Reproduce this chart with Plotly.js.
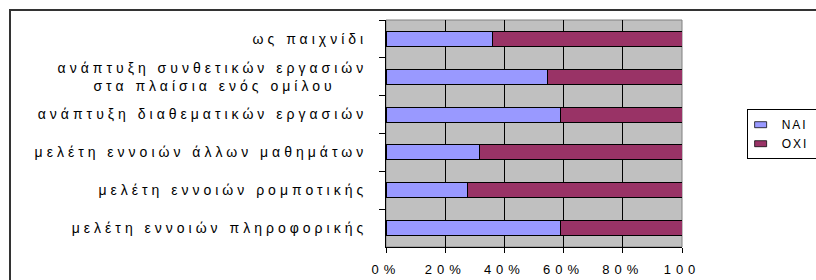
<!DOCTYPE html>
<html>
<head>
<meta charset="utf-8">
<script src="https://cdn.plot.ly/plotly-3.0.1.min.js"></script>
<style>
  html, body { margin: 0; padding: 0; background: #fff; overflow: hidden; }
  #wrap { position: relative; width: 816px; height: 280px; }
  #frame { position: absolute; left: 9px; top: 9px; width: 900px; height: 400px;
           border: 2px solid #333; pointer-events: none; z-index: 5; }
  #chart { position: absolute; left: 0; top: 0; width: 816px; height: 280px; }
  .ytick text { letter-spacing: 4px; }
  .xtick text { letter-spacing: 5px; }
  .legendtext { letter-spacing: 2px; transform: translateX(-6px); }
  .legendpoints path { transform: translate(13px, 0px) scale(1, 0.5) !important; }
</style>
</head>
<body>
<div id="wrap">
  <div id="chart"></div>
  <div id="frame"></div>
</div>
<script>
const categories = [
  "ως παιχνίδι",
  "ανάπτυξη συνθετικών εργασιών<br>στα πλαίσια ενός ομίλου\u00a0\u00a0\u00a0\u00a0",
  "ανάπτυξη διαθεματικών εργασιών",
  "μελέτη εννοιών άλλων μαθημάτων",
  "μελέτη εννοιών ρομποτικής",
  "μελέτη εννοιών πληροφορικής"
];
const naiValues = [36, 54.5, 59, 31.5, 27.5, 59];
const oxiValues = [64, 45.5, 41, 68.5, 72.5, 41];
const seriesNames = ["NAI", "OXI"];
const xTickVals = [0, 20, 40, 60, 80, 100];
const xTickText = ["0%", "20%", "40%", "60%", "80%", "100<br>%"];

const traces = [
  { type: 'bar', orientation: 'h', name: seriesNames[0], y: categories, x: naiValues,
    marker: { color: '#9999FF', line: { color: '#000', width: 1 } }, hoverinfo: 'skip' },
  { type: 'bar', orientation: 'h', name: seriesNames[1], y: categories, x: oxiValues,
    marker: { color: '#993366', line: { color: '#000', width: 1 } }, hoverinfo: 'skip' }
];

const layout = {
  width: 816, height: 280,
  margin: { l: 386, r: 134, t: 20, b: 33, pad: 0, autoexpand: false },
  barmode: 'stack',
  bargap: 0.6,
  paper_bgcolor: 'rgba(0,0,0,0)',
  plot_bgcolor: '#C0C0C0',
  font: { family: 'Liberation Sans, Arial, sans-serif', color: '#000', size: 12 },
  showlegend: true,
  legend: {
    xref: 'container', yref: 'container',
    x: 0.915, y: 0.61, xanchor: 'left', yanchor: 'top',
    bgcolor: '#fff', bordercolor: '#000', borderwidth: 1,
    font: { size: 12, family: 'Liberation Sans, Arial, sans-serif' },
    traceorder: 'normal', itemwidth: 30, tracegroupgap: 0
  },
  xaxis: {
    range: [0, 100], tickvals: xTickVals, ticktext: xTickText,
    showgrid: true, gridcolor: '#000', gridwidth: 1,
    zeroline: false, showline: true, linecolor: '#000', linewidth: 1,
    ticks: 'outside', ticklen: 5, tickcolor: '#000',
    tickfont: { size: 13 }, ticklabelstandoff: 5, fixedrange: true
  },
  yaxis: {
    type: 'category', autorange: 'reversed',
    showgrid: false, zeroline: false, showline: true, linecolor: '#000', linewidth: 1,
    ticks: 'outside', ticklen: 6, tickcolor: '#000', tickson: 'boundaries',
    tickfont: { size: 14 }, ticklabelstandoff: 15, automargin: false, fixedrange: true
  },
  shapes: [
    { type: 'rect', xref: 'paper', yref: 'paper', x0: 0, x1: 1, y0: 0, y1: 1,
      line: { color: '#808080', width: 1 }, fillcolor: 'rgba(0,0,0,0)', layer: 'below' }
  ]
};

Plotly.newPlot('chart', traces, layout, { displayModeBar: false, staticPlot: true });
</script>
</body>
</html>
